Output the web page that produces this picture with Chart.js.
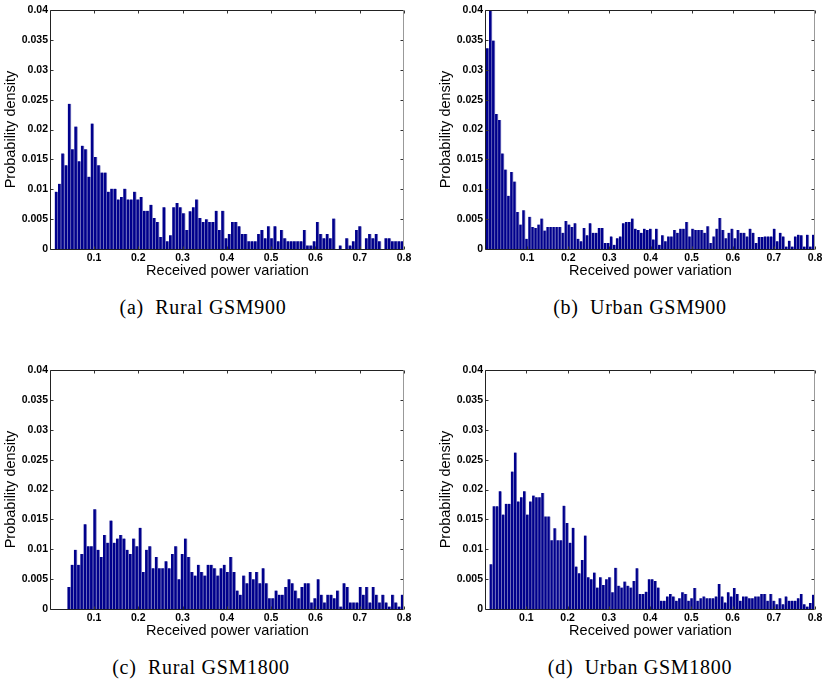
<!DOCTYPE html>
<html>
<head>
<meta charset="utf-8">
<script src="https://cdn.jsdelivr.net/npm/chart.js@4.4.0/dist/chart.umd.min.js"></script>
<style>
  body { margin: 0; width: 822px; height: 680px; background: #fff; position: relative; overflow: hidden; }
  canvas { position: absolute; }
  .cap {
    position: absolute; transform: translateX(-50%);
    font-family: 'Liberation Serif', serif; font-size: 20px; letter-spacing: 0.7px;
    line-height: 20px; white-space: pre; color: #000;
  }
</style>
</head>
<body>
<canvas id="ruralA" width="411" height="290" style="left:0;top:0"></canvas>
<canvas id="urbanB" width="387" height="290" style="left:435px;top:0"></canvas>
<canvas id="ruralC" width="411" height="290" style="left:0;top:360px"></canvas>
<canvas id="urbanD" width="387" height="290" style="left:435px;top:360px"></canvas>
<div class="cap" style="left:203px;top:297px">(a)  Rural GSM900</div>
<div class="cap" style="left:640px;top:297px">(b)  Urban GSM900</div>
<div class="cap" style="left:201px;top:657px">(c)  Rural GSM1800</div>
<div class="cap" style="left:640px;top:657px">(d)  Urban GSM1800</div>
<script>
/* histogram heights, one value per bin, read left to right */
const ruralGsm900 = [
  0.0096, 0.0109, 0.0160, 0.0140, 0.0243, 0.0167, 0.0205, 0.0147, 0.0173, 0.0167, 0.0121, 0.0210,
  0.0154, 0.0140, 0.0128, 0.0128, 0.0096, 0.0101, 0.0101, 0.0083, 0.0087, 0.0101, 0.0083, 0.0083,
  0.0096, 0.0083, 0.0087, 0.0064, 0.0064, 0.0074, 0.0052, 0.0045, 0.0020, 0.0070, 0.0013, 0.0023,
  0.0070, 0.0077, 0.0070, 0.0060, 0.0032, 0.0063, 0.0070, 0.0083, 0.0052, 0.0045,
  0.0050, 0.0045, 0.0045, 0.0064, 0.0032, 0.0064, 0.0018, 0.0025, 0.0045, 0.0045, 0.0038, 0.0025,
  0.0025, 0.0013, 0.0013, 0.0013, 0.0025, 0.0032, 0.0018, 0.0038, 0.0018, 0.0038, 0.0013, 0.0032,
  0.0018, 0.0013, 0.0013, 0.0013, 0.0013, 0.0013, 0.0032, 0.0006, 0.0006, 0.0013, 0.0045, 0.0025,
  0.0018, 0.0025, 0.0018, 0.0051, 0, 0.0006, 0, 0.0018, 0.0006, 0.0013, 0.0032, 0.0038, 0, 0.0018,
  0.0025, 0.0018, 0.0025, 0.0013, 0, 0.0018, 0.0018, 0.0013, 0.0013, 0.0013, 0.0013
];
const urbanGsm900 = [
  0.0336, 0.0400, 0.0349, 0.0226, 0.0216, 0.0160, 0.0133, 0.0089, 0.0129, 0.0113, 0.0062, 0.0041,
  0.0065, 0.0017, 0.0054, 0.0037, 0.0035, 0.0041, 0.0051, 0.0031, 0.0037, 0.0037, 0.0037, 0.0037,
  0.0037, 0.0027, 0.0047, 0.0041, 0.0037, 0.0043, 0.0017, 0.0013, 0.0035, 0.0023, 0.0043, 0.0027,
  0.0027, 0.0035, 0.0035, 0.0010, 0.0010, 0.0021, 0.0007, 0.0018, 0.0021, 0.0043,
  0.0045, 0.0045, 0.0051, 0.0034, 0.0032, 0.0027, 0.0034, 0.0032, 0.0034, 0.0016, 0.0034, 0.0007,
  0.0023, 0.0013, 0.0021, 0.0021, 0.0032, 0.0027, 0.0034, 0.0034, 0.0045, 0.0021, 0.0034, 0.0032,
  0.0032, 0.0032, 0.0027, 0.0038, 0.0010, 0.0021, 0.0034, 0.0052, 0.0032, 0.0018, 0.0027, 0.0034,
  0.0018, 0.0032, 0.0027, 0.0027, 0.0021, 0.0034, 0.0027, 0.0010, 0.0020, 0.0020, 0.0021, 0.0021,
  0.0021, 0.0034, 0.0013, 0.0027, 0.0021, 0.0004, 0.0014, 0.0004, 0.0021, 0.0024, 0.0023, 0.0004,
  0.0024, 0.0004, 0.0024
];
const ruralGsm1800 = [
  0.0037, 0.0074, 0.0099, 0.0074, 0.0092, 0.0142, 0.0105, 0.0105, 0.0167, 0.0099, 0.0087, 0.0124,
  0.0111, 0.0148, 0.0111, 0.0118, 0.0124, 0.0118, 0.0099, 0.0092, 0.0118, 0.0105, 0.0136, 0.0062,
  0.0099, 0.0105, 0.0068, 0.0087, 0.0068, 0.0068, 0.0080, 0.0068, 0.0092, 0.0105, 0.0050, 0.0092,
  0.0118, 0.0087, 0.0062, 0.0056, 0.0074,
  0.0062, 0.0056, 0.0074, 0.0074, 0.0068, 0.0056, 0.0068, 0.0074, 0.0062, 0.0087, 0.0062, 0.0031,
  0.0024, 0.0056, 0.0043, 0.0062, 0.0050, 0.0062, 0.0043, 0.0068, 0.0043, 0.0018, 0.0018, 0.0031,
  0.0024, 0.0024, 0.0037, 0.0050, 0.0043, 0.0031, 0.0018, 0.0037, 0.0043, 0.0043, 0.0011, 0.0018,
  0.0050, 0.0024, 0.0011, 0.0024, 0.0024, 0.0018, 0.0031, 0.0004, 0.0043, 0.0037, 0.0011, 0.0011,
  0.0011, 0.0037, 0.0024, 0.0037, 0.0011, 0.0037, 0.0024, 0.0011, 0.0024, 0.0011, 0.0004, 0.0024,
  0.0011, 0.0004, 0.0024
];
const urbanGsm1800 = [
  0.0075, 0.0172, 0.0172, 0.0197, 0.0158, 0.0176, 0.0176, 0.0230, 0.0262, 0.0180, 0.0187, 0.0197,
  0.0158, 0.0180, 0.0190, 0.0187, 0.0187, 0.0194, 0.0155, 0.0155, 0.0115, 0.0135, 0.0115, 0.0115,
  0.0173, 0.0144, 0.0111, 0.0136, 0.0071, 0.0060, 0.0082, 0.0123, 0.0053, 0.0050, 0.0061, 0.0036,
  0.0053, 0.0040, 0.0050, 0.0053, 0.0028, 0.0069, 0.0039, 0.0036, 0.0046,
  0.0039, 0.0036, 0.0047, 0.0068, 0.0025, 0.0025, 0.0029, 0.0050, 0.0050, 0.0047, 0.0036, 0.0014,
  0.0014, 0.0021, 0.0025, 0.0021, 0.0014, 0.0018, 0.0028, 0.0025, 0.0014, 0.0018, 0.0035, 0.0014,
  0.0018, 0.0021, 0.0018, 0.0018, 0.0018, 0.0021, 0.0042, 0.0021, 0.0011, 0.0028, 0.0021, 0.0035,
  0.0025, 0.0014, 0.0021, 0.0021, 0.0018, 0.0018, 0.0021, 0.0021, 0.0025, 0.0025, 0.0014, 0.0025,
  0.0014, 0.0008, 0.0018, 0.0008, 0.0021, 0.0014, 0.0014, 0.0014, 0.0018, 0.0025, 0.0008, 0.0004,
  0.0010, 0.0024
];

/* left edge of the first bin, and left end of the x axis */
const binStarts = { ruralA: 0.0114, urbanB: 0, ruralC: 0.04, urbanD: 0.0105 };
const axisMins = { ruralA: 0.003, urbanB: 0, ruralC: 0.003, urbanD: 0.002 };
const xMax = 0.8;

/* box + inward ticks on all four sides, matlab style */
const frame = {
  id: 'frame',
  afterDatasetsDraw(chart) {
    const { ctx, chartArea: a, scales: { x, y } } = chart;
    const L = Math.round(a.left) - 0.5, R = Math.round(a.right) - 0.5;
    const T = Math.round(a.top) + 0.5, B = Math.round(a.bottom) + 0.5;
    ctx.save();
    ctx.lineWidth = 1;
    ctx.strokeStyle = '#333';
    ctx.beginPath();
    x.ticks.forEach((t) => {
      const px = Math.round(x.getPixelForValue(t.value)) + 0.5;
      ctx.moveTo(px, T); ctx.lineTo(px, T + 3);
      ctx.moveTo(px, B); ctx.lineTo(px, B - 3);
    });
    y.ticks.forEach((t) => {
      const py = Math.round(y.getPixelForValue(t.value)) + 0.5;
      ctx.moveTo(L, py); ctx.lineTo(L + 3, py);
      ctx.moveTo(R, py); ctx.lineTo(R - 3, py);
    });
    ctx.stroke();
    ctx.strokeStyle = '#222';
    ctx.beginPath();
    ctx.moveTo(L, T); ctx.lineTo(L, B); ctx.lineTo(R, B);
    ctx.moveTo(L, T); ctx.lineTo(R, T);
    ctx.stroke();
    ctx.strokeStyle = '#999';
    ctx.beginPath();
    ctx.moveTo(R, T); ctx.lineTo(R, B);
    ctx.stroke();
    ctx.restore();
  },
};

const tickFont = { family: "'Liberation Sans', Arial, sans-serif", size: 10.5, weight: 'bold' };
const titleFont = { family: "'Liberation Sans', Arial, sans-serif", size: 14.5 };

const makePanel = (id, values) => {
  const start = binStarts[id];
  const w = (xMax - start) / values.length;
  const points = values.map((v, i) => ({ x: start + (i + 0.5) * w, y: v }));

  new Chart(document.getElementById(id), {
    type: 'bar',
    data: {
      datasets: [
        {
          data: points,
          backgroundColor: '#00008c',
          borderColor: '#8c8cc8',
          borderWidth: { top: 0, right: 1, bottom: 0, left: 0 },
          barPercentage: 1,
          categoryPercentage: 1,
        },
      ],
    },
    plugins: [frame],
    options: {
      responsive: false,
      animation: false,
      devicePixelRatio: 1,
      layout: { padding: { left: 0, right: 7, top: 10, bottom: 10 } },
      plugins: { legend: { display: false }, tooltip: { enabled: false } },
      scales: {
        x: {
          type: 'linear',
          min: axisMins[id],
          max: xMax,
          offset: false,
          grid: { display: false, drawTicks: false },
          border: { display: false },
          ticks: {
            stepSize: 0.1,
            includeBounds: false,
            autoSkip: false,
            maxRotation: 0,
            padding: 3,
            color: '#000',
            font: tickFont,
            callback: (v) => v.toFixed(1),
          },
          afterBuildTicks: (s) => {
            s.ticks = s.ticks.filter((t) => t.value > 0.05);
          },
          afterFit: (s) => {
            s.height = 31;
            s.paddingLeft = 0;
            s.paddingRight = 0;
          },
          title: {
            display: true,
            text: 'Received power variation',
            color: '#000',
            font: titleFont,
            padding: { top: 0, bottom: 0 },
          },
        },
        y: {
          min: 0,
          max: 0.04,
          grid: { display: false, drawTicks: false },
          border: { display: false },
          ticks: {
            stepSize: 0.005,
            padding: 3,
            color: '#000',
            font: tickFont,
            callback: (v) => String(+v.toFixed(3)),
          },
          afterFit: (s) => {
            s.width = 51;
            s.paddingTop = 0;
            s.paddingBottom = 0;
          },
          title: {
            display: true,
            text: 'Probability density',
            color: '#000',
            font: titleFont,
            padding: { top: 2, bottom: 0 },
          },
        },
      },
    },
  });
};

makePanel('ruralA', ruralGsm900);
makePanel('urbanB', urbanGsm900);
makePanel('ruralC', ruralGsm1800);
makePanel('urbanD', urbanGsm1800);
</script>
</body>
</html>
